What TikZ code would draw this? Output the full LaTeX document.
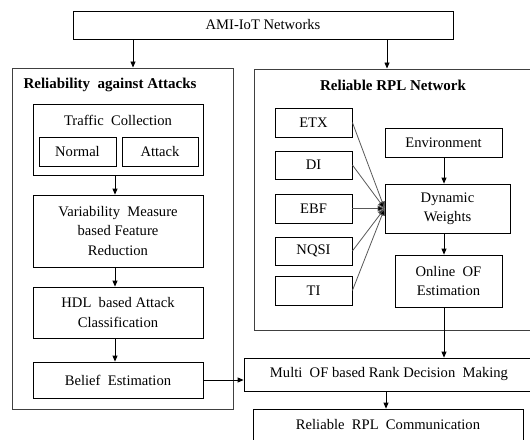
\documentclass[tikz,border=0pt]{standalone}
\usepackage{fontspec}
\setmainfont{Liberation Serif}
\usetikzlibrary{arrows.meta,calc}
\begin{document}
\begin{tikzpicture}[x=1pt,y=-1pt,
  box/.style={draw, line width=0.8pt, inner sep=0pt, align=center, font=\fontsize{14.6}{19.5}\selectfont},
  panel/.style={draw=black!75, line width=1pt, inner sep=0pt},
  ttl/.style={font=\bfseries\fontsize{15}{17}\selectfont, inner sep=0pt},
  txt/.style={font=\fontsize{14.6}{17}\selectfont, inner sep=0pt},
  arr/.style={-{Triangle[length=6pt,width=5pt]}, line width=0.8pt},
  conn/.style={draw=black!65, line width=0.8pt, -{Triangle[length=7pt,width=6pt,fill=black]}}]
\useasboundingbox (0,0) rectangle (530,439);
\clip (0,0) rectangle (530,439);
% column coordinates
\coordinate (ca) at (133,0);
\coordinate (cb) at (387,0);
\coordinate (cl) at (115,0);
\coordinate (cx) at (444,0);
\coordinate (cm) at (386,0);
% top
\node[box, minimum width=380pt, minimum height=28pt] (top) at (263,25) {AMI-IoT Networks};
% panels
\node[panel, minimum width=221pt, minimum height=341pt] (lp) at (122.5,238.5) {};
\node[panel, minimum width=290pt, minimum height=261pt] (rp) at (399,199.5) {};
\node[ttl] (lt) at (110,85) {Reliability\ \ against Attacks};
\node[ttl] (rt) at (393,85) {Reliable RPL Network};
% left column
\node[box, minimum width=170pt, minimum height=71pt] (trf) at (118,139.5) {};
\node[txt] (trft) at (118,120) {Traffic\ \ Collection};
\node[box, minimum width=77pt, minimum height=29pt] (nor) at (77.5,151.5) {Normal};
\node[box, minimum width=76pt, minimum height=29pt] (att) at (160,151.5) {Attack};
\node[box, minimum width=170pt, minimum height=72pt] (var) at (118,231) {Variability\ \ Measure\\based Feature\\Reduction};
\node[box, minimum width=170pt, minimum height=51pt] (hdl) at (118,312.5) {HDL\ \ based Attack\\Classification};
\node[box, minimum width=170pt, minimum height=36pt] (bel) at (118,380) {Belief\ \ Estimation};
% right panel
\node[box, minimum width=77pt, minimum height=29pt] (etx) at (313.5,122.5) {ETX};
\node[box, minimum width=77pt, minimum height=28pt] (di) at (313.5,165) {DI};
\node[box, minimum width=77pt, minimum height=29pt] (ebf) at (313.5,208.5) {EBF};
\node[box, minimum width=77pt, minimum height=28pt] (nqsi) at (313.5,251) {NQSI};
\node[box, minimum width=77pt, minimum height=29pt] (ti) at (313.5,290.5) {TI};
\node[box, minimum width=117pt, minimum height=29pt] (env) at (443.5,142.5) {Environment};
\node[box, minimum width=125pt, minimum height=49pt] (dyn) at (447.5,208.5) {Dynamic\\Weights};
\node[box, minimum width=107pt, minimum height=52pt] (onl) at (448.5,281) {Online\ \ OF\\Estimation};
% bottom
\node[box, minimum width=290pt, minimum height=33pt] (mul) at (389,374.5) {Multi\ \ OF based Rank Decision\ \ Making};
\node[box, minimum width=270pt, minimum height=41pt] (rel) at (388,429.5) {};
\node[txt] (relt) at (388,425) {Reliable\ \ RPL\ \ Communication};
% arrows
\draw[arr] (top.south -| ca) -- (lp.north -| ca);
\draw[arr] (top.south -| cb) -- (rp.north -| cb);
\draw[arr] (trf.south -| cl) -- (var.north -| cl);
\draw[arr] (var.south -| cl) -- (hdl.north -| cl);
\draw[arr] (hdl.south -| cl) -- (bel.north -| cl);
\draw[arr] (bel.east) -- (bel.east -| mul.west);
\draw[arr] (env.south -| cx) -- (dyn.north -| cx);
\draw[arr] (dyn.south -| cx) -- (onl.north -| cx);
\draw[arr] (onl.south -| cx) -- (mul.north -| cx);
\draw[arr] (mul.south -| cm) -- (rel.north -| cm);
\foreach \n in {etx,di,ebf,nqsi,ti} \draw[conn] (\n.east) -- (dyn.west);
\end{tikzpicture}
\end{document}
